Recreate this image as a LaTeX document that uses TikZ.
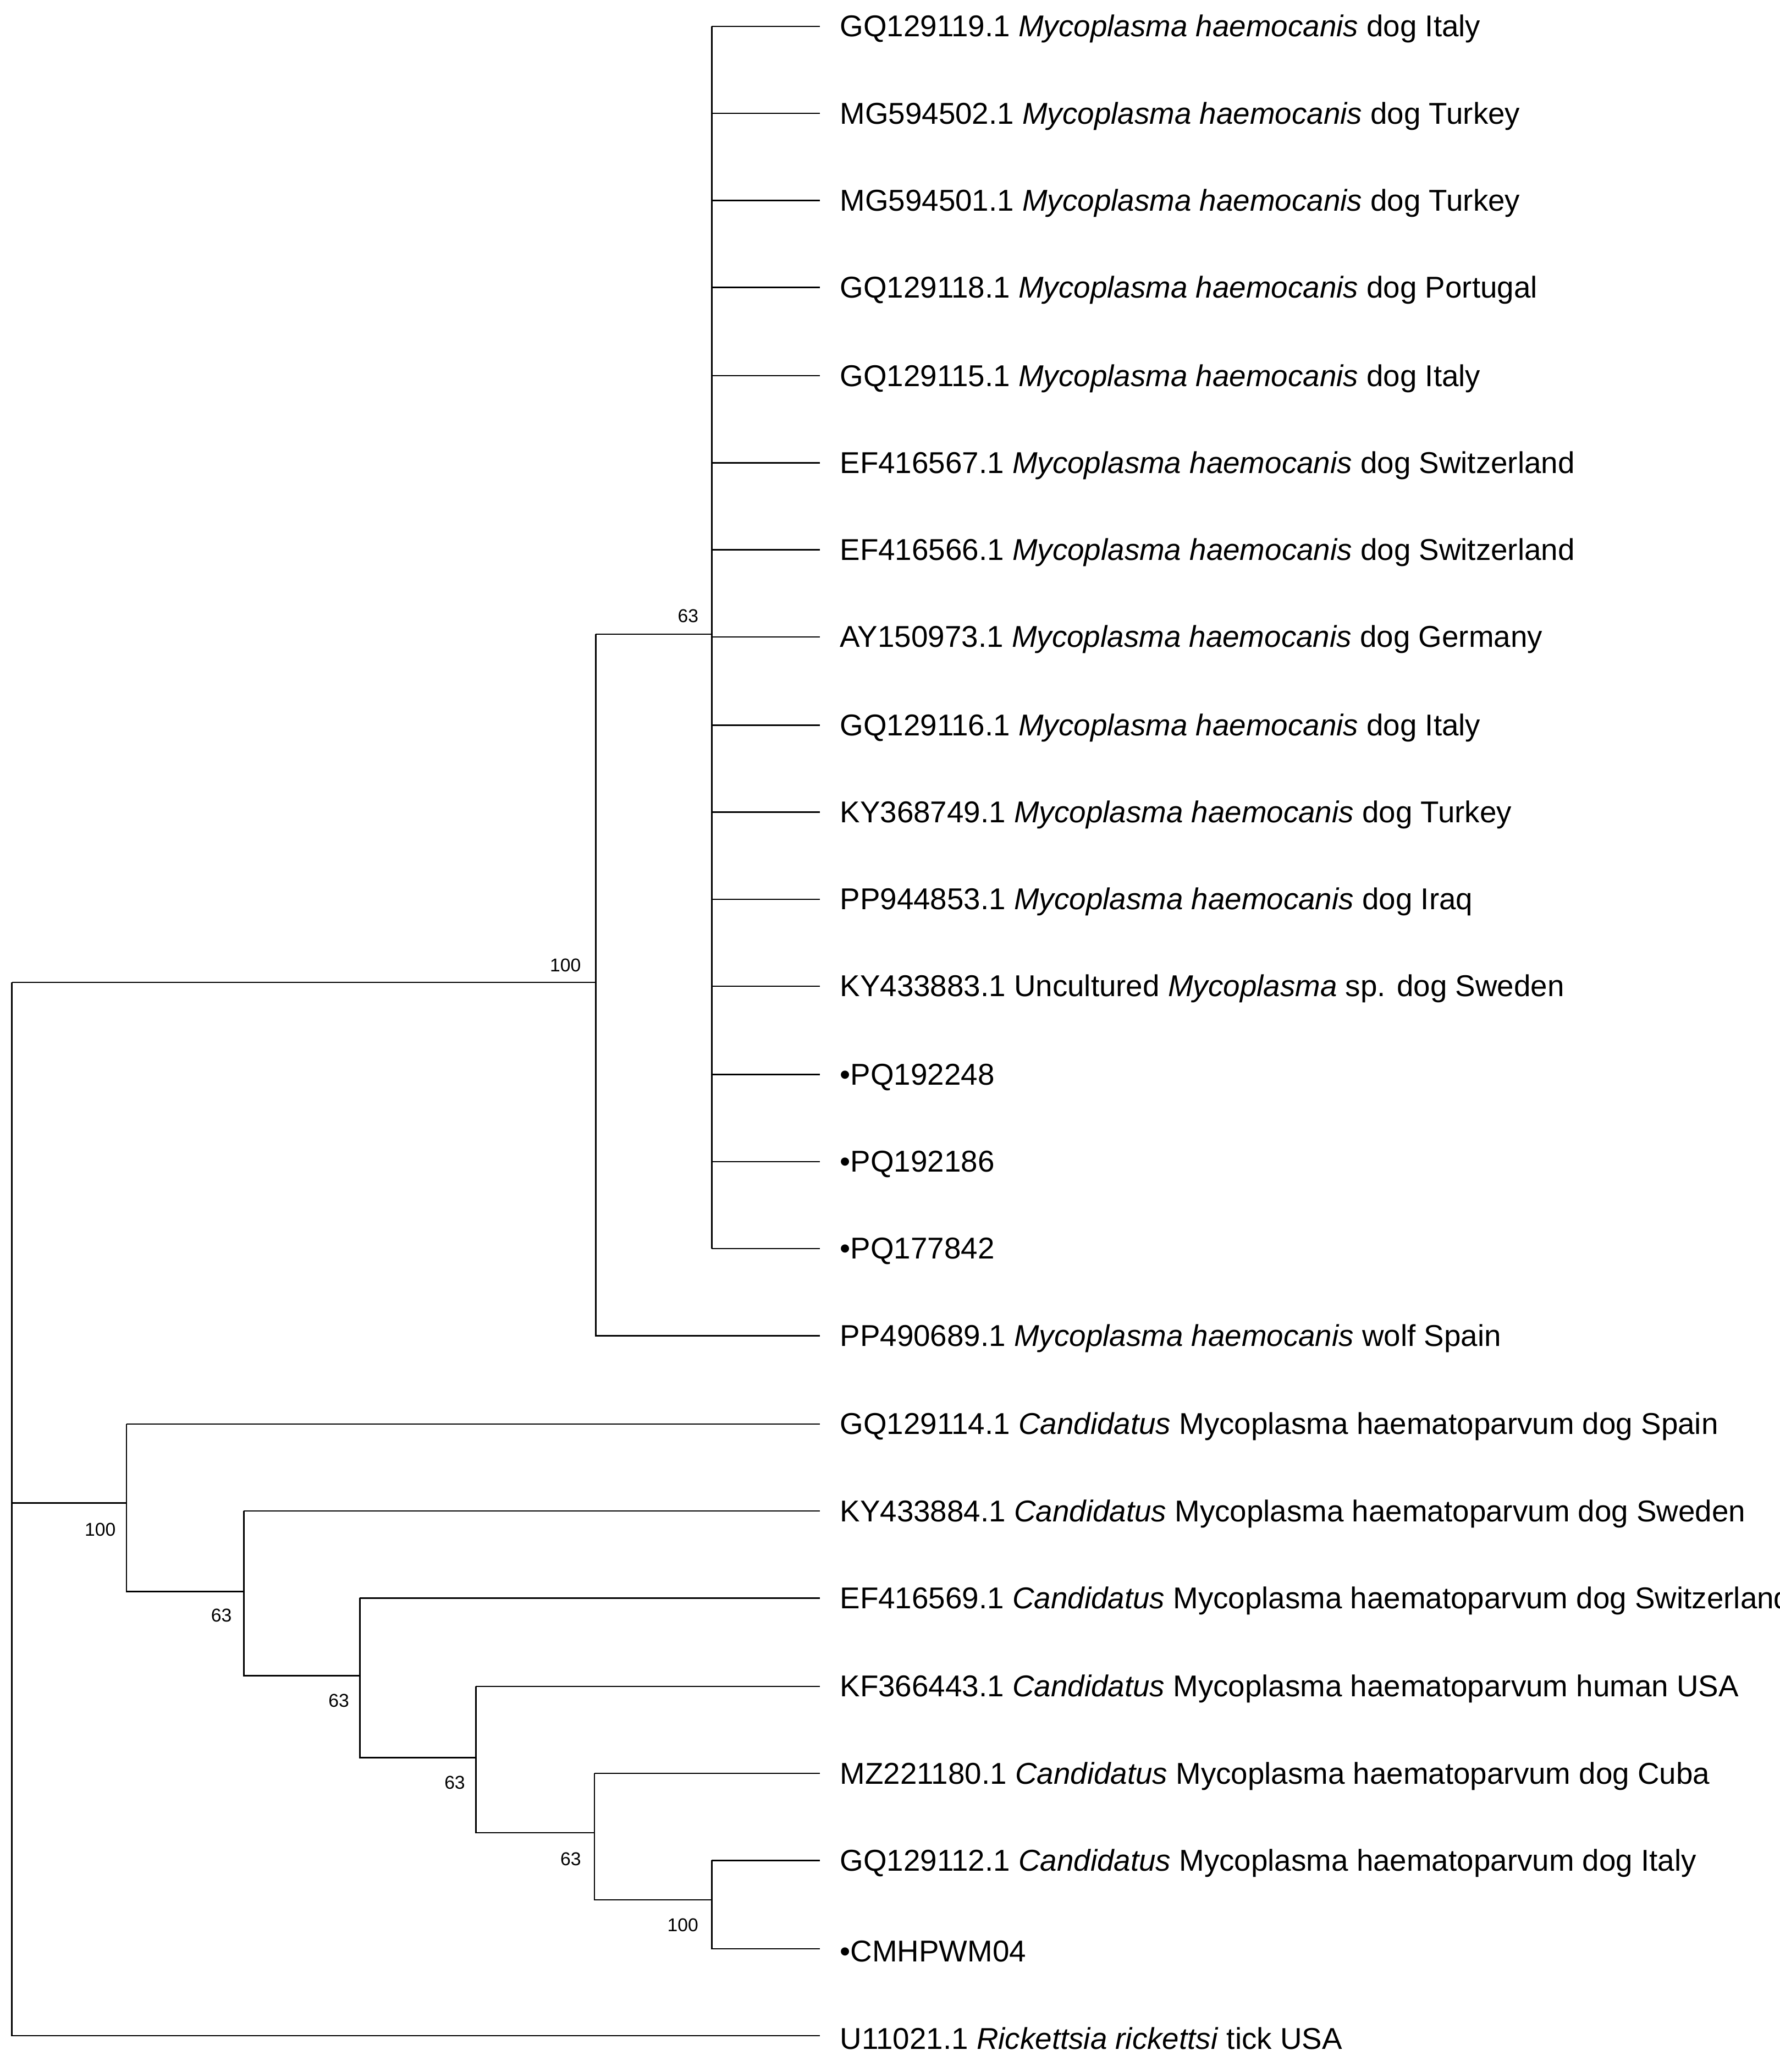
\documentclass[tikz,border=0pt]{standalone}
\usepackage{fontspec}
\setmainfont{Liberation Sans}
\begin{document}
\begin{tikzpicture}[x=0.03cm,y=-0.03cm,
  br/.style={line width=0.9pt,black},
  lf/.style={anchor=west,inner sep=0pt,font=\fontsize{19.5}{22}\selectfont},
  bs/.style={inner sep=0pt,font=\fontsize{12}{14}\selectfont}]
\useasboundingbox (0,0) rectangle (1350,1571.5);
\clip (0,0) rectangle (1350,1571.5);
\def\ys{{20,86,152,218,285,351,417,483,550,616,682,748,815,881,947,1013,1080,1146,1212,1279,1345,1411,1478,1544}}
\newcommand{\M}{\textit{Mycoplasma haemocanis}}
\newcommand{\C}{\textit{Candidatus} Mycoplasma haematoparvum}
\foreach \i/\t in {0/{GQ129119.1 \M{} dog Italy},1/{MG594502.1 \M{} dog Turkey},2/{MG594501.1 \M{} dog Turkey},3/{GQ129118.1 \M{} dog Portugal},4/{GQ129115.1 \M{} dog Italy},5/{EF416567.1 \M{} dog Switzerland},6/{EF416566.1 \M{} dog Switzerland},7/{AY150973.1 \M{} dog Germany},8/{GQ129116.1 \M{} dog Italy},9/{KY368749.1 \M{} dog Turkey},10/{PP944853.1 \M{} dog Iraq},11/{KY433883.1 Uncultured \textit{Mycoplasma} sp. dog Sweden},12/{•PQ192248},13/{•PQ192186},14/{•PQ177842},15/{PP490689.1 \M{} wolf Spain},16/{GQ129114.1 \C{} dog Spain},17/{KY433884.1 \C{} dog Sweden},18/{EF416569.1 \C{} dog Switzerland},19/{KF366443.1 \C{} human USA},20/{MZ221180.1 \C{} dog Cuba},21/{GQ129112.1 \C{} dog Italy},22/{•CMHPWM04},23/{U11021.1 \textit{Rickettsia rickettsi} tick USA}}{
  \pgfmathsetmacro\yy{\ys[\i]}
  \node[lf] (t\i) at (637,\yy+2) {\t};
  \coordinate (e\i) at (622,\yy);
}
% internal nodes
\coordinate (R) at (9,745);
\coordinate (A) at (452,745);
\coordinate (C) at (540,481);
\coordinate (B) at (96,1140);
\coordinate (D) at (185,1207);
\coordinate (E) at (273,1271);
\coordinate (F) at (361,1333);
\coordinate (G) at (451,1390);
\coordinate (H) at (540,1441);
% C clade
\draw[br] (C |- e0) -- (C |- e14);
\foreach \i in {0,...,14} \draw[br] (C |- e\i) -- (e\i);
\draw[br] (A |- C) -- (C);
\draw[br] (A |- C) -- (A |- e15) -- (e15);
\draw[br] (R) -- (A);
% B clade
\draw[br] (B |- e16) -- (e16);
\draw[br] (B |- e16) -- (B |- D) -- (D);
\draw[br] (D |- e17) -- (e17);
\draw[br] (D |- e17) -- (D |- E) -- (E);
\draw[br] (E |- e18) -- (e18);
\draw[br] (E |- e18) -- (E |- F) -- (F);
\draw[br] (F |- e19) -- (e19);
\draw[br] (F |- e19) -- (F |- G) -- (G);
\draw[br] (G |- e20) -- (e20);
\draw[br] (G |- e20) -- (G |- H) -- (H);
\draw[br] (H |- e21) -- (e21);
\draw[br] (H |- e21) -- (H |- e22) -- (e22);
% root
\draw[br] (R) -- (R |- e23) -- (e23);
\draw[br] (R |- B) -- (B);
% bootstrap
\node[bs] (b1) at (522,467) {63};
\node[bs] (b2) at (429,732) {100};
\node[bs] (b3) at (76,1160) {100};
\node[bs] (b4) at (168,1225) {63};
\node[bs] (b5) at (257,1290) {63};
\node[bs] (b6) at (345,1352) {63};
\node[bs] (b7) at (433,1410) {63};
\node[bs] (b8) at (518,1460) {100};
\end{tikzpicture}
\end{document}
